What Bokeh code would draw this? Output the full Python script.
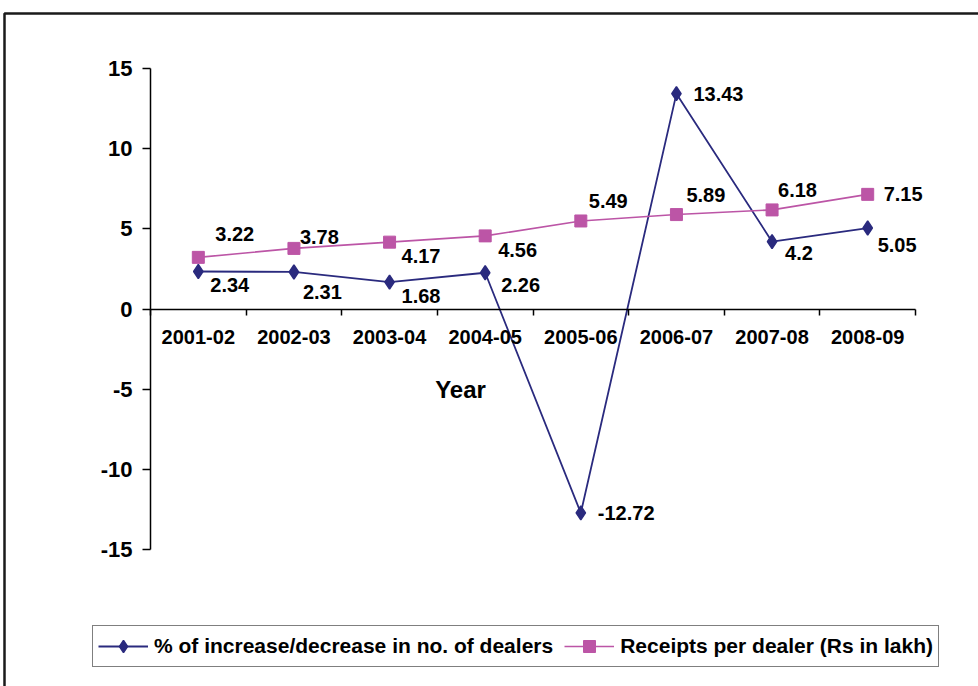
from bokeh.plotting import figure
from bokeh.models import (Range1d, LinearAxis, FixedTicker, Label,
                          Legend, LegendItem, BoxAnnotation, ColumnDataSource)
from bokeh.core.properties import value
from bokeh.embed import file_html
from bokeh.resources import INLINE

years = ["2001-02", "2002-03", "2003-04", "2004-05", "2005-06", "2006-07", "2007-08", "2008-09"]
dealers_change = [2.34, 2.31, 1.68, 2.26, -12.72, 13.43, 4.2, 5.05]
receipts = [3.22, 3.78, 4.17, 4.56, 5.49, 5.89, 6.18, 7.15]
y_ticks = [-15, -10, -5, 0, 5, 10, 15]
series_names = ["% of increase/decrease in no. of dealers", "Receipts per dealer (Rs in lakh)"]
x_title = "Year"

# label placement (pixels) for the data labels
dealers_dx = [12, 9, 12, 16, 17, 17, 13, 10]
dealers_dy = [14, 20, 14, 12, 0, 0, 11, 17]
receipts_dx = [17, 6, 12, 13, 8, 10, 6, 16]
receipts_dy = [-23, -11, 14, 14, -20, -20, -20, 0]

NAVY = "#2A2A7E"
PINK = "#BC55A6"
FONT = "Liberation Sans"

# page layout in pixels
W, H = 978, 686
AX_LEFT, AX_RIGHT = 150, 915      # x extent of the category axis
AX_TOP, AX_BOTTOM = 68, 549       # y extent of the value axis

n = len(years)
xpos = [i + 0.5 for i in range(n)]          # category centres
bounds = list(range(n + 1))                 # category boundaries
ymin, ymax = y_ticks[0], y_ticks[-1]

xs = (AX_RIGHT - AX_LEFT) / n
ys = (AX_BOTTOM - AX_TOP) / (ymax - ymin)
x_range = Range1d(-AX_LEFT / xs, n + (W - AX_RIGHT) / xs)
y_range = Range1d(ymin - (H - AX_BOTTOM) / ys, ymax + AX_TOP / ys)

p = figure(width=W, height=H, output_backend="svg", toolbar_location=None,
           x_range=x_range, y_range=y_range,
           x_axis_location=None, y_axis_location=None,
           min_border=0, min_border_left=0, min_border_right=0,
           min_border_top=0, min_border_bottom=0)
p.outline_line_color = None
p.xgrid.visible = False
p.ygrid.visible = False
p.background_fill_color = "white"
p.border_fill_color = "white"

# outer border
p.add_layout(BoxAnnotation(left=4, right=W + 30, top=13, bottom=H + 30,
                           left_units="canvas", right_units="canvas",
                           top_units="canvas", bottom_units="canvas",
                           fill_alpha=0, line_color="#1a1a1a", line_alpha=1, line_width=2.5))

# y axis
yax = LinearAxis(ticker=FixedTicker(ticks=y_ticks), fixed_location=0, bounds=(ymin, ymax),
                 major_label_overrides={t: str(t) for t in y_ticks})
yax.axis_line_color = "black"
yax.axis_line_width = 1.5
yax.major_tick_out = 8
yax.major_tick_in = 0
yax.major_tick_line_width = 1.5
yax.minor_tick_line_color = None
yax.major_label_standoff = 10
yax.major_label_text_font = FONT
yax.major_label_text_font_style = "bold"
yax.major_label_text_font_size = "22px"
yax.major_label_text_color = "black"
p.add_layout(yax, "left")

# tick marks at category boundaries, on the zero line
bax = LinearAxis(ticker=FixedTicker(ticks=bounds), fixed_location=0, bounds=(0, n))
bax.axis_line_color = "black"
bax.axis_line_width = 1.5
bax.major_tick_out = 6
bax.major_tick_in = 0
bax.major_tick_line_width = 1.5
bax.minor_tick_line_color = None
bax.major_label_text_font_size = "0px"
bax.major_label_text_color = None
p.add_layout(bax, "below")

# category labels
cax = LinearAxis(ticker=FixedTicker(ticks=xpos), fixed_location=0, bounds=(0, n),
                 major_label_overrides={x: y for x, y in zip(xpos, years)})
cax.axis_line_color = None
cax.major_tick_line_color = None
cax.minor_tick_line_color = None
cax.major_tick_out = 0
cax.major_tick_in = 0
cax.major_label_standoff = 21
cax.major_label_text_font = FONT
cax.major_label_text_font_style = "bold"
cax.major_label_text_font_size = "20px"
cax.major_label_text_color = "black"
p.add_layout(cax, "below")

# axis title
p.add_layout(Label(x=460, y=H - 389, x_units="screen", y_units="screen", text=x_title,
                   text_font=FONT, text_font_style="bold", text_font_size="24px",
                   text_color="black", text_align="center", text_baseline="middle"))

src = ColumnDataSource(dict(x=xpos, d=dealers_change, r=receipts,
                            dl=[f"{v:g}" for v in dealers_change],
                            rl=[f"{v:g}" for v in receipts],
                            ddx=dealers_dx, ddy=dealers_dy, rdx=receipts_dx, rdy=receipts_dy))

l1 = p.line("x", "d", source=src, line_color=NAVY, line_width=1.8)
m1 = p.scatter("x", "d", source=src, marker="diamond", size=14,
               fill_color=NAVY, line_color=NAVY, line_width=1.5)
l2 = p.line("x", "r", source=src, line_color=PINK, line_width=1.6)
m2 = p.scatter("x", "r", source=src, marker="square", size=12,
               fill_color=PINK, line_color=PINK)

p.text("x", "d", text="dl", source=src, x_offset="ddx", y_offset="ddy",
       text_font=value(FONT), text_font_style="bold", text_font_size="20px",
       text_color="black", text_align="left", text_baseline="middle")
p.text("x", "r", text="rl", source=src, x_offset="rdx", y_offset="rdy",
       text_font=value(FONT), text_font_style="bold", text_font_size="20px",
       text_color="black", text_align="left", text_baseline="middle")

legend = Legend(items=[LegendItem(label=series_names[0], renderers=[l1, m1]),
                       LegendItem(label=series_names[1], renderers=[l2, m2])],
                location=(92, H - 667), orientation="horizontal",
                border_line_color="black", border_line_width=1.5,
                label_text_font=FONT, label_text_font_style="bold",
                label_text_font_size="21px", label_text_color="black",
                glyph_width=50, glyph_height=30, label_standoff=6, spacing=11,
                padding=5, margin=0, background_fill_alpha=1)
p.add_layout(legend, "center")

open("out.html", "w").write(file_html(p, INLINE))
